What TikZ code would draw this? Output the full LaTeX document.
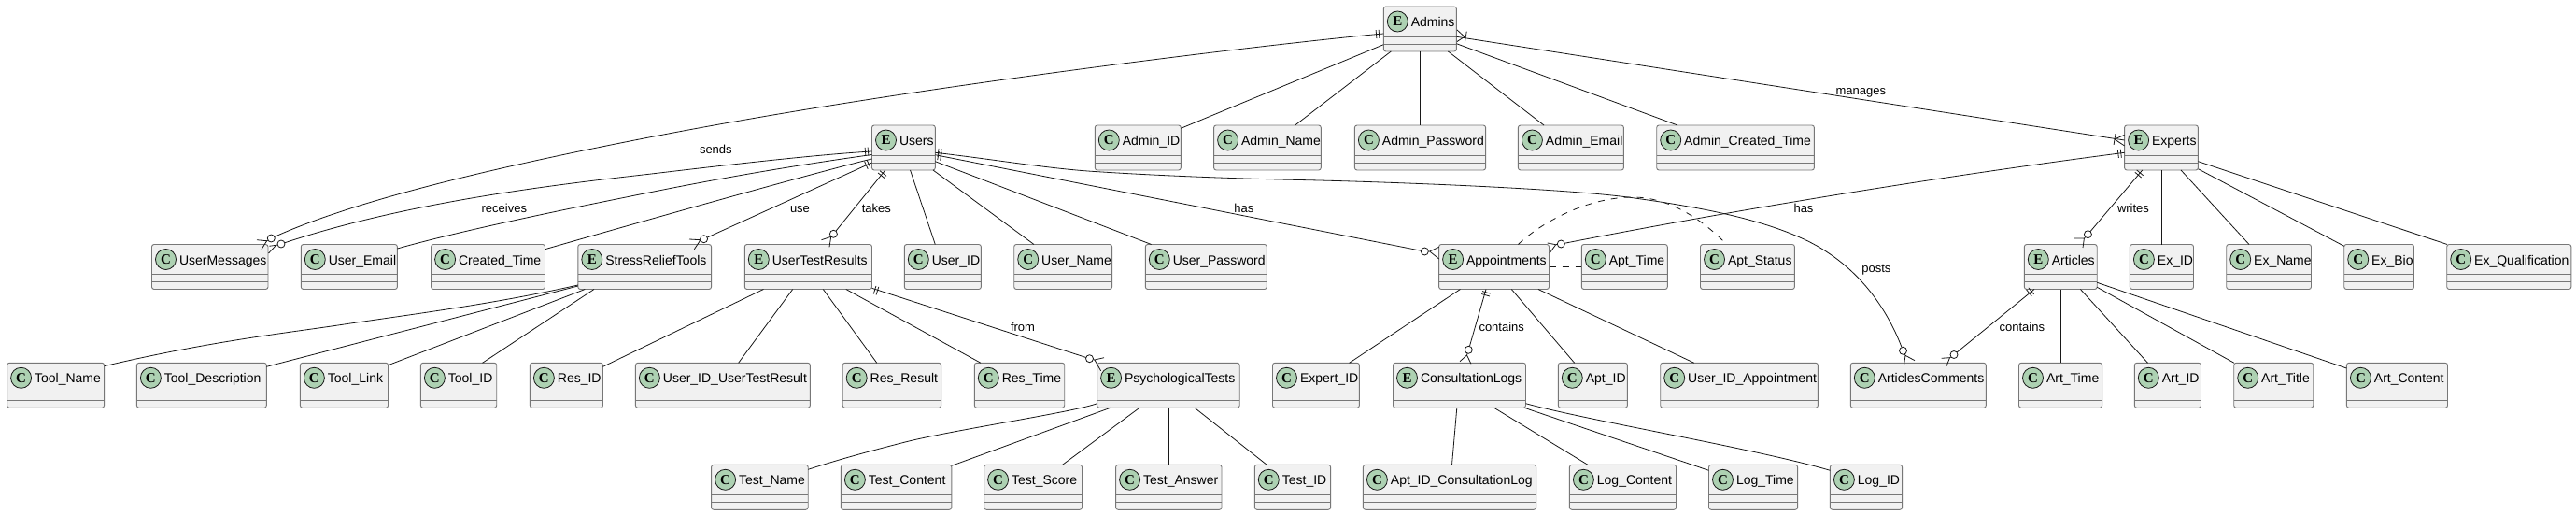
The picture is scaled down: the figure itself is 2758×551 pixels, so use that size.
\documentclass[tikz,border=0pt]{standalone}
\usepackage{fontspec}
\setmainfont{Liberation Sans}
\newfontfamily\glyphfont{Liberation Serif}
\definecolor{boxfill}{HTML}{F1F1F1}
\definecolor{boxline}{HTML}{777777}
\definecolor{ink}{HTML}{181818}
\definecolor{spot}{HTML}{ADD1B2}
\tikzset{
  x=1pt,y=-1pt,
  ebox/.style={draw=boxline,fill=boxfill,line width=0.9pt,rounded corners=2.5pt,inner sep=0pt,outer sep=0pt,minimum height=48pt,anchor=north west},
  sepline/.style={draw=boxline,line width=0.9pt},
  spotc/.style={circle,draw=ink,fill=spot,line width=0.8pt,minimum size=22pt,inner sep=0pt,outer sep=0pt,font=\glyphfont\bfseries\fontsize{15}{15}\selectfont},
  etext/.style={anchor=base west,inner sep=0pt,outer sep=0pt,text=black,font=\fontsize{14}{16}\selectfont},
  ltext/.style={anchor=base west,inner sep=0pt,outer sep=0pt,text=black,font=\fontsize{13}{15}\selectfont},
  lnk/.style={draw=ink,line width=0.8pt},
  dlnk/.style={draw=ink,line width=0.8pt,dash pattern=on 7pt off 7pt},
  ringc/.style={circle,draw=ink,fill=white,line width=0.8pt,minimum size=8pt,inner sep=0pt,outer sep=0pt},
}
% entity box: name, left, right, top, letter, text
\newcommand\ent[6]{%
  \expandafter\xdef\csname xo@#1\endcsname{#2}%
  \expandafter\xdef\csname yo@#1\endcsname{#4}%
  \node[ebox,minimum width={(#3-#2)*1pt}] (#1) at (#2,#4) {};
  \draw[sepline] ([yshift=-32pt]#1.north west) -- ([yshift=-32pt]#1.north east);
  \draw[sepline] ([yshift=-40pt]#1.north west) -- ([yshift=-40pt]#1.north east);
  \node[spotc] (#1-spot) at ({#2+15},{#4+16}) {#5};
  \node[etext] (#1-name) at ({#2+29.5},{#4+21.5}) {#6};
}
% point on a named node, given in picture coordinates
\newcommand\pp[3]{([shift={({#2-\csname xo@#1\endcsname},{#3-\csname yo@#1\endcsname})}]#1.north west)}
\newcommand\lk[6]{\draw[lnk] \pp{#1}{#2}{#3} -- \pp{#4}{#5}{#6};}
\newcommand\dbar[3]{\begin{scope}[shift={(#1,#2)},rotate=#3]\draw[lnk] (-1.5,-4.5) -- (-1.5,4.5) (1.5,-4.5) -- (1.5,4.5);\end{scope}}
\newcommand\sbar[3]{\begin{scope}[shift={(#1,#2)},rotate=#3]\draw[lnk] (0,-6) -- (0,6);\end{scope}}
% ring with crow's foot: name, ring centre, apex, two tips
\newcommand\crow[9]{%
  \node[ringc] (#1) at (#2,#3) {};
  \draw[lnk] (#1) -- (#4,#5) (#6,#7) -- (#4,#5) -- (#8,#9);
}
\newcommand\lb[4]{\node[ltext] (#1) at (#2,#3) {#4};}
\begin{document}
\begin{tikzpicture}
\useasboundingbox (0,0) rectangle (2758,551);
\fill[white] (0,0) rectangle (2758,551);
\ent{Admins}{1481.3}{1559.4}{7}{E}{Admins}
\ent{Users}{933.5}{1001.3}{134}{E}{Users}
\ent{AdminID}{1172.3}{1264.3}{134}{C}{Admin\_ID}
\ent{AdminName}{1299.6}{1414.3}{134}{C}{Admin\_Name}
\ent{AdminPassword}{1450.4}{1590.6}{134}{C}{Admin\_Password}
\ent{AdminEmail}{1625.4}{1738.4}{134}{C}{Admin\_Email}
\ent{AdminCreatedTime}{1773.7}{1942.4}{134}{C}{Admin\_Created\_Time}
\ent{Experts}{2274.6}{2353.4}{134}{E}{Experts}
\ent{UserMessages}{162.5}{287}{261.5}{C}{UserMessages}
\ent{UserEmail}{322.3}{425.4}{261.5}{C}{User\_Email}
\ent{CreatedTime}{461.6}{583.5}{261.5}{C}{Created\_Time}
\ent{StressReliefTools}{618.8}{761.6}{261.5}{E}{StressReliefTools}
\ent{UserTestResults}{797.3}{933.5}{261.5}{E}{UserTestResults}
\ent{UserID}{968.3}{1050.4}{261.5}{C}{User\_ID}
\ent{UserName}{1085.7}{1190.6}{261.5}{C}{User\_Name}
\ent{UserPassword}{1226.3}{1356.3}{261.5}{C}{User\_Password}
\ent{Appointments}{1540.6}{1658.5}{261.5}{E}{Appointments}
\ent{AptTime}{1693.3}{1785.3}{261.5}{C}{Apt\_Time}
\ent{AptStatus}{1820.5}{1921.4}{261.5}{C}{Apt\_Status}
\ent{Articles}{2167.3}{2245.2}{261.5}{E}{Articles}
\ent{ExID}{2280.4}{2348.5}{261.5}{C}{Ex\_ID}
\ent{ExName}{2383.7}{2474.5}{261.5}{C}{Ex\_Name}
\ent{ExBio}{2509.7}{2584.5}{261.5}{C}{Ex\_Bio}
\ent{ExQualification}{2619.7}{2752.8}{261.5}{C}{Ex\_Qualification}
\ent{ToolName}{7.6}{111.6}{388.3}{C}{Tool\_Name}
\ent{ToolDescription}{146.4}{285.3}{388.3}{C}{Tool\_Description}
\ent{ToolLink}{321.4}{415.6}{388.3}{C}{Tool\_Link}
\ent{ToolID}{450.4}{531.7}{388.3}{C}{Tool\_ID}
\ent{ResID}{567.4}{645.5}{388.3}{C}{Res\_ID}
\ent{UserIDUserTestResult}{680.4}{867.4}{388.3}{C}{User\_ID\_UserTestResult}
\ent{ResResult}{902.2}{1007.6}{388.3}{C}{Res\_Result}
\ent{ResTime}{1043.3}{1139.7}{388.3}{C}{Res\_Time}
\ent{PsychologicalTests}{1174.6}{1327.2}{388.3}{E}{PsychologicalTests}
\ent{ExpertID}{1362.5}{1455.4}{388.3}{C}{Expert\_ID}
\ent{ConsultationLogs}{1491.5}{1633.5}{388.3}{E}{ConsultationLogs}
\ent{AptID}{1668.3}{1742.4}{388.3}{C}{Apt\_ID}
\ent{UserIDAppointment}{1777.7}{1946.4}{388.3}{C}{User\_ID\_Appointment}
\ent{ArticlesComments}{1981.3}{2126.3}{388.3}{C}{ArticlesComments}
\ent{ArtTime}{2161.5}{2250.6}{388.3}{C}{Art\_Time}
\ent{ArtID}{2285.3}{2356.5}{388.3}{C}{Art\_ID}
\ent{ArtTitle}{2391.7}{2476.7}{388.3}{C}{Art\_Title}
\ent{ArtContent}{2512.4}{2620.5}{388.3}{C}{Art\_Content}
\ent{TestName}{761.6}{865.2}{497.3}{C}{Test\_Name}
\ent{TestContent}{900.4}{1018.8}{497.3}{C}{Test\_Content}
\ent{TestScore}{1053.6}{1158.5}{497.3}{C}{Test\_Score}
\ent{TestAnswer}{1194.6}{1308}{497.3}{C}{Test\_Answer}
\ent{TestID}{1343.3}{1424.6}{497.3}{C}{Test\_ID}
\ent{AptIDConsultationLog}{1459.4}{1644.6}{497.3}{C}{Apt\_ID\_ConsultationLog}
\ent{LogContent}{1680.4}{1794.6}{497.3}{C}{Log\_Content}
\ent{LogTime}{1829.5}{1924.6}{497.3}{C}{Log\_Time}
\ent{LogID}{1959.4}{2036.6}{497.3}{C}{Log\_ID}
% rings and crow's feet
\crow{ringSends}{290.3}{255}{285.7}{257.7}{275}{256.7}{280}{266.7}
\crow{ringReceives}{301}{261}{295.7}{262.3}{288.3}{263.3}{287.5}{271}
\crow{ringUse}{753.6}{255.7}{750}{256.7}{738}{256}{743.3}{266.7}
\crow{ringTakes}{892.4}{250.3}{889.7}{253.3}{879.5}{256.7}{888}{264.3}
\crow{ringFrom}{1166.5}{383.7}{1171.9}{385}{1182}{382.7}{1178.6}{396.7}
\crow{ringUserAppt}{1525.3}{269}{1530.7}{269}{1540.7}{264.3}{1540.7}{277}
\crow{ringExpAppt}{1671.3}{261}{1665.7}{261.7}{1656.7}{260}{1659}{271}
\crow{ringLogs}{1572.3}{374.3}{1570.5}{380}{1563}{386.7}{1575}{389.3}
\crow{ringPosts}{2037.5}{375.3}{2040}{380.3}{2038.4}{391}{2050}{385.7}
\crow{ringComments}{2092}{379.5}{2087.5}{382.7}{2078.6}{383.3}{2084}{391.7}
\crow{ringWrites}{2235.4}{250.7}{2231.4}{255}{2221.2}{255}{2230}{265}
% Admins
\draw[lnk] \pp{Admins}{1481.3}{36} .. controls (1400,43) and (1000,88) .. (700,146) .. controls (560,173) and (390,210) .. (ringSends);
\lk{Admins}{1481.3}{47.7}{AdminID}{1264.3}{137.3}
\lk{Admins}{1489.3}{55}{AdminName}{1386.6}{134}
\lk{Admins}{1520.5}{55}{AdminPassword}{1520.5}{134}
\lk{Admins}{1550.4}{55}{AdminEmail}{1653}{134}
\lk{Admins}{1559.4}{46.7}{AdminCreatedTime}{1796}{134}
\lk{Admins}{1559.4}{39.3}{Experts}{2274.6}{150}
% Users
\draw[lnk] \pp{Users}{933.5}{162} .. controls (880,165) and (790,175) .. (700,185.7) .. controls (600,197) and (440,215) .. (ringReceives);
\draw[lnk] \pp{Users}{933.5}{165.5} .. controls (850,177) and (770,191) .. (700,205) .. controls (620,221) and (500,245) .. \pp{UserEmail}{425.4}{266};
\draw[lnk] \pp{Users}{933.5}{170} .. controls (880,182.7) and (700,233.3) .. \pp{CreatedTime}{583.5}{266.7};
\draw[lnk] \pp{Users}{933.5}{174} -- (ringUse);
\draw[lnk] \pp{Users}{947.8}{182} -- (ringTakes);
\lk{Users}{974.5}{182}{UserID}{1001.3}{261.5}
\lk{Users}{999}{182}{UserName}{1107}{261.5}
\lk{Users}{1001.3}{172.7}{UserPassword}{1232.6}{261.5}
\draw[lnk] \pp{Users}{1001.3}{165.7} -- (ringUserAppt);
\draw[lnk] \pp{Users}{1001.3}{163.3} .. controls (1060,170) and (1120,180) .. (1168.8,183.3) .. controls (1240,188) and (1320,191) .. (1400,192.7) .. controls (1500,195) and (1680,202) .. (1748,211.7) .. controls (1830,223) and (1890,236) .. (1935.7,258) .. controls (1990,285) and (2020,330) .. (ringPosts);
% StressReliefTools
\draw[lnk] \pp{StressReliefTools}{618.8}{305} .. controls (530,325) and (450,335) .. (370.5,346.7) .. controls (310,356) and (230,364) .. \pp{ToolName}{111.6}{391.7};
\lk{StressReliefTools}{618.8}{306}{ToolDescription}{285.3}{392.3}
\lk{StressReliefTools}{626.3}{309.5}{ToolLink}{415.6}{390.7}
\lk{StressReliefTools}{636}{309.5}{ToolID}{516.5}{388.3}
% UserTestResults
\lk{UserTestResults}{817.4}{309.5}{ResID}{645.5}{392.3}
\lk{UserTestResults}{848.7}{309.5}{UserIDUserTestResult}{790.6}{388.3}
\lk{UserTestResults}{881.3}{309.5}{ResResult}{938.8}{388.3}
\lk{UserTestResults}{905.8}{309.5}{ResTime}{1050}{388.3}
\draw[lnk] \pp{UserTestResults}{933.5}{308.3} -- (ringFrom);
% PsychologicalTests
\draw[lnk] \pp{PsychologicalTests}{1174.6}{431.7} .. controls (1150,441) and (1020,460) .. (967.9,473.3) .. controls (930,483) and (900,491) .. \pp{TestName}{865.2}{502.3};
\lk{PsychologicalTests}{1188.8}{436.3}{TestContent}{1018.8}{498.3}
\lk{PsychologicalTests}{1220}{436.3}{TestScore}{1137.5}{497.3}
\lk{PsychologicalTests}{1251.3}{436.3}{TestAnswer}{1251.3}{497.3}
\lk{PsychologicalTests}{1279}{436.3}{TestID}{1356.3}{497.3}
% Appointments
\lk{Appointments}{1563.4}{309.5}{ExpertID}{1444.6}{388.3}
\draw[lnk] \pp{Appointments}{1591}{309.5} -- (ringLogs);
\lk{Appointments}{1618.3}{309.5}{AptID}{1685.7}{388.3}
\lk{Appointments}{1646.9}{309.5}{UserIDAppointment}{1813.8}{388.3}
\draw[dlnk] \pp{Appointments}{1658.5}{285.3} -- \pp{AptTime}{1693.3}{285.3};
\draw[dlnk] \pp{Appointments}{1625.4}{261.5} .. controls (1650,238) and (1700,211) .. (1748,211) .. controls (1790,211) and (1825,238) .. \pp{AptStatus}{1846.4}{259.3};
% ConsultationLogs
\lk{ConsultationLogs}{1559.8}{436.3}{AptIDConsultationLog}{1554.5}{497.3}
\lk{ConsultationLogs}{1599.6}{436.3}{LogContent}{1700}{497.3}
\lk{ConsultationLogs}{1632}{436.3}{LogTime}{1829.5}{503.3}
\draw[lnk] \pp{ConsultationLogs}{1633.5}{431.7} .. controls (1700,450) and (1880,480) .. \pp{LogID}{1959.4}{503.3};
% Experts
\draw[lnk] \pp{Experts}{2274.6}{163.3} .. controls (2060,191) and (1842,227.7) .. (ringExpAppt);
\draw[lnk] \pp{Experts}{2293.7}{182} -- (ringWrites);
\lk{Experts}{2314.7}{182}{ExID}{2314.7}{261.5}
\lk{Experts}{2335}{182}{ExName}{2408}{261.5}
\lk{Experts}{2353.4}{180.7}{ExBio}{2509.7}{263.3}
\lk{Experts}{2353.4}{172.7}{ExQualification}{2620}{261.5}
% Articles
\draw[lnk] \pp{Articles}{2178}{309.5} -- (ringComments);
\lk{Articles}{2206.5}{309.5}{ArtTime}{2206.5}{388.3}
\lk{Articles}{2227.4}{309.5}{ArtID}{2299.5}{388.3}
\lk{Articles}{2245.2}{307.3}{ArtTitle}{2392}{388.3}
\lk{Articles}{2245.2}{302.3}{ArtContent}{2512.4}{394}
% bars
\dbar{1475}{36.5}{5}
\dbar{928}{162.3}{5}
\dbar{928.7}{176}{24}
\dbar{944.6}{186.7}{51}
\dbar{1006}{163.5}{-7}
\dbar{1006}{167}{-11}
\dbar{938}{310.7}{-18}
\dbar{2269.3}{164.3}{7.5}
\dbar{1591}{314.3}{74}
\dbar{2290.2}{186}{50}
\dbar{2173.5}{312.3}{39.4}
% one-or-many ends
\sbar{1569.3}{39.5}{-9}
\draw[lnk] (1560,32) -- (1568,39.3) -- (1560,44.5);
\sbar{2264}{149}{-9}
\draw[lnk] (2274.6,144.3) -- (2264,149) -- (2274.6,156);
% labels
\lb{lSends}{749}{164}{sends}
\lb{lReceives}{515.6}{227.7}{receives}
\lb{lUse}{846}{227.7}{use}
\lb{lTakes}{922.8}{227.7}{takes}
\lb{lHasA}{1321.4}{227.7}{has}
\lb{lFrom}{1082}{354.7}{from}
\lb{lManages}{1965.6}{101}{manages}
\lb{lHasB}{1920.5}{227.7}{has}
\lb{lPosts}{1993.3}{291}{posts}
\lb{lContainsA}{1583.5}{354.7}{contains}
\lb{lWrites}{2267}{227.7}{writes}
\lb{lContainsB}{2140.6}{354.7}{contains}
\end{tikzpicture}
\end{document}
